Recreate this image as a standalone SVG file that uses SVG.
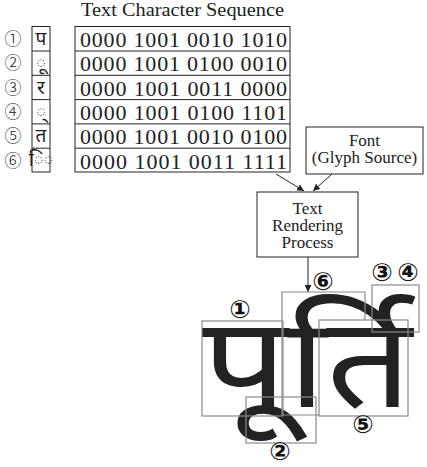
<svg xmlns="http://www.w3.org/2000/svg" width="427" height="467" viewBox="0 0 427 467">
<style>
.t{font-family:"Liberation Serif","Times New Roman",serif;fill:#222}
.box{fill:none;stroke:#222;stroke-width:1}
.gb{fill:none;stroke:#8a8a8a;stroke-width:1.2}
.cn{font-family:"Noto Sans CJK JP","DejaVu Sans",sans-serif;font-size:17px;font-weight:300;fill:#222;text-anchor:middle}
.cb{font-family:"DejaVu Sans","Noto Sans CJK JP",sans-serif;font-size:25px;font-weight:bold;fill:#111;text-anchor:middle}
.dv{font-family:"Noto Sans Devanagari","Noto Serif Devanagari","Lohit Devanagari","Noto Sans",sans-serif;fill:#222;text-anchor:middle}
.conn{stroke:#222;stroke-width:1;fill:none}
</style>
<defs>
<marker id="ah" viewBox="0 0 10 10" refX="10" refY="5" markerWidth="7" markerHeight="7" orient="auto" markerUnits="userSpaceOnUse">
<path d="M0,0 L10,5 L0,10 z" fill="#222"/>
</marker>
</defs>
<rect width="427" height="467" fill="#fff"/>
<g id="sequence">
<text class="t" x="81" y="16" font-size="19" textLength="203" lengthAdjust="spacingAndGlyphs">Text Character Sequence</text>
<g id="numbers">
<text class="cn" x="13" y="44.5">①</text>
<text class="cn" x="13" y="69">②</text>
<text class="cn" x="13" y="93.5">③</text>
<text class="cn" x="13" y="117.5">④</text>
<text class="cn" x="13" y="142">⑤</text>
<text class="cn" x="13" y="166.5">⑥</text>
</g>
<g id="chars">
<rect class="box" x="32" y="26.5" width="18" height="145.5"/>
<line class="box" x1="32" y1="51" x2="50" y2="51"/>
<line class="box" x1="32" y1="75.3" x2="50" y2="75.3"/>
<line class="box" x1="32" y1="99.6" x2="50" y2="99.6"/>
<line class="box" x1="32" y1="123.9" x2="50" y2="123.9"/>
<line class="box" x1="32" y1="148.2" x2="50" y2="148.2"/>
<text class="dv" x="41" y="45" font-size="19">प</text>
<text class="dv" x="41" y="69" font-size="19">◌ू</text>
<text class="dv" x="41" y="94" font-size="19">र</text>
<text class="dv" x="41" y="118" font-size="19">◌्</text>
<text class="dv" x="41" y="142" font-size="19">त</text>
<text class="dv" x="41" y="166" font-size="19">ि◌</text>
</g>
<g id="codes">
<rect class="box" x="75" y="26.5" width="215" height="145.5"/>
<line class="box" x1="75" y1="51" x2="290" y2="51"/>
<line class="box" x1="75" y1="75.3" x2="290" y2="75.3"/>
<line class="box" x1="75" y1="99.6" x2="290" y2="99.6"/>
<line class="box" x1="75" y1="123.9" x2="290" y2="123.9"/>
<line class="box" x1="75" y1="148.2" x2="290" y2="148.2"/>
<text class="t" x="80" y="47" font-size="22" textLength="207" lengthAdjust="spacing">0000 1001 0010 1010</text>
<text class="t" x="80" y="71.3" font-size="22" textLength="207" lengthAdjust="spacing">0000 1001 0100 0010</text>
<text class="t" x="80" y="95.6" font-size="22" textLength="207" lengthAdjust="spacing">0000 1001 0011 0000</text>
<text class="t" x="80" y="119.9" font-size="22" textLength="207" lengthAdjust="spacing">0000 1001 0100 1101</text>
<text class="t" x="80" y="144.2" font-size="22" textLength="207" lengthAdjust="spacing">0000 1001 0010 0100</text>
<text class="t" x="80" y="168.5" font-size="22" textLength="207" lengthAdjust="spacing">0000 1001 0011 1111</text>
</g>
</g>
<g id="font">
<rect class="box" x="306" y="127" width="117" height="47"/>
<text class="t" x="364.5" y="146" font-size="17" text-anchor="middle">Font</text>
<text class="t" x="364.5" y="163" font-size="17" text-anchor="middle">(Glyph Source)</text>
</g>
<g id="render">
<rect class="box" x="257" y="192" width="101" height="65"/>
<text class="t" x="307.5" y="214" font-size="17" text-anchor="middle">Text</text>
<text class="t" x="307.5" y="231" font-size="17" text-anchor="middle">Rendering</text>
<text class="t" x="307.5" y="248" font-size="17" text-anchor="middle">Process</text>
</g>
<g id="connectors">
<line class="conn" x1="276" y1="174" x2="304" y2="191" marker-end="url(#ah)"/>
<line class="conn" x1="332" y1="174" x2="313" y2="191" marker-end="url(#ah)"/>
<line class="conn" x1="308" y1="257" x2="308" y2="292" marker-end="url(#ah)"/>
</g>
<g id="output">
<text class="dv" x="307" y="407" font-size="126" textLength="210" lengthAdjust="spacingAndGlyphs">पूर्ति</text>
<rect class="gb" x="202" y="321" width="81" height="95"/>
<path class="gb" d="M365,320 V292 H282 V415 H319"/>
<rect class="gb" x="246" y="397" width="70" height="46"/>
<rect class="gb" x="319" y="320" width="89" height="96"/>
<rect class="gb" x="372" y="285" width="47" height="47"/>
<text class="cb" x="240" y="318">①</text>
<text class="cb" x="280" y="460">②</text>
<text class="cb" x="382" y="281">③</text>
<text class="cb" x="408" y="281">④</text>
<text class="cb" x="363" y="433">⑤</text>
<text class="cb" x="323" y="290">⑥</text>
</g>
</svg>
